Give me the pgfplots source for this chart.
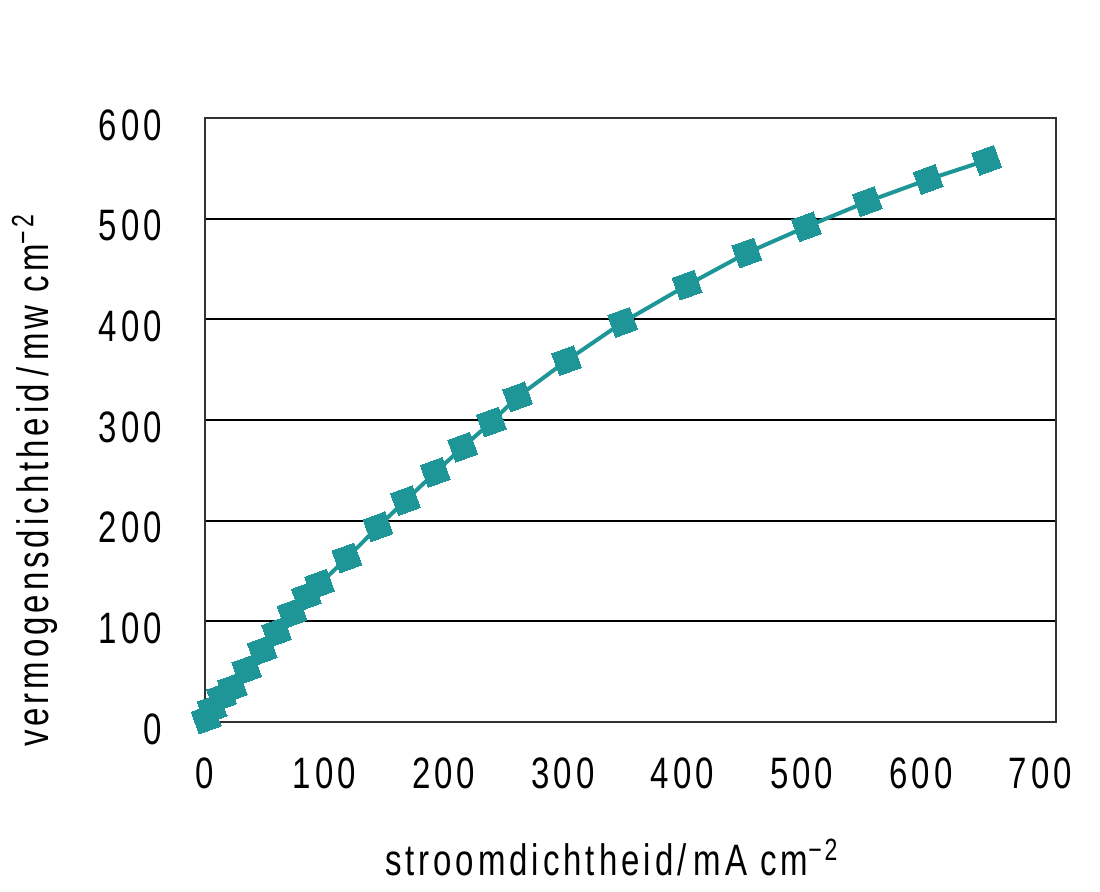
\documentclass[border=0pt]{standalone}
\usepackage{pgfplots}
\pgfplotsset{compat=1.18}
\usepackage{fontspec}
\setmainfont[FakeStretch=0.75, LetterSpace=9]{Liberation Sans}
\definecolor{teal1}{RGB}{30,150,152}
\definecolor{axgray}{RGB}{50,50,50}
\begin{document}
\begin{tikzpicture}
\path[use as bounding box] (-102.5pt,-85pt) rectangle (447.5pt,361pt);
\begin{axis}[
  at={(0,0)}, anchor=south west,
  scale only axis,
  width=425.5pt, height=302pt,
  xmin=0, xmax=713, ymin=0, ymax=600,
  xtick={0,100,...,700}, ytick={0,100,...,600},
  axis line style={axgray, line width=1.3pt},
  ymajorgrids, major grid style={black, line width=0.9pt},
  tick style={draw=none},
  font=\fontsize{22}{26}\selectfont,
  /pgf/number format/assume math mode=true,
  xticklabel style={yshift=-14.5pt},
  yticklabel style={xshift=-18pt, yshift=-3.5pt},
  xlabel={stroomdichtheid/\,mA cm\textsuperscript{−2}},
  ylabel={vermogensdichtheid\,/\,mw cm\textsuperscript{−2}},
  xlabel style={at={(axis description cs:0.478,-0.225)}, anchor=center},
  ylabel style={at={(axis description cs:-0.2,0.40)}, anchor=center},
  clip=false,
]
\addplot[teal1, line width=2pt, mark=square*, mark size=5.8pt,
  mark options={rotate=20, fill=teal1, draw=teal1, line width=0pt}]
coordinates {
(1,3) (6,13) (14,25) (23,34) (35,52) (48,71) (60,89) (73,108) (85,125) (96,137)
(119,163) (145,194) (168,220) (193,248) (216,273) (240,298) (262,323)
(303,359) (350,397) (404,434) (454,466) (504,492) (555,517) (606,539) (655,558)
};
\end{axis}
\end{tikzpicture}
\end{document}
